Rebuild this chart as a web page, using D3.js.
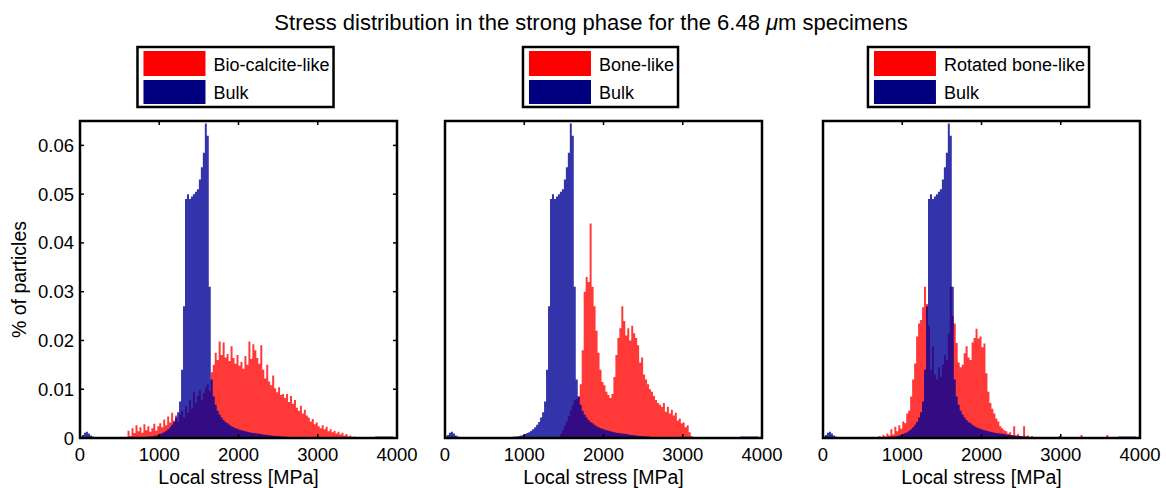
<!DOCTYPE html>
<html>
<head>
<meta charset="utf-8">
<script src="https://cdn.jsdelivr.net/npm/d3@7"></script>
<style>
  html, body { margin: 0; padding: 0; background: #fff; }
  svg text { font-family: "Liberation Sans", Arial, Helvetica, sans-serif; fill: #000; }
</style>
</head>
<body>
<svg id="chart" width="1166" height="488"></svg>
<script>
// ---------------- DATA ----------------
const titleText = "Stress distribution in the strong phase for the 6.48 ";
const xLabel = "Local stress [MPa]";
const yLabel = "% of particles";
const binWidth = 25;                       // MPa per histogram bin
const xTicks = [0, 1000, 2000, 3000, 4000];
const xTickLabels = ["0", "1000", "2000", "3000", "4000"];
const yTicks = [0, 0.01, 0.02, 0.03, 0.04, 0.05, 0.06];
const yTickLabels = ["0", "0.01", "0.02", "0.03", "0.04", "0.05", "0.06"];
const seriesLabels = ["Bio-calcite-like", "Bone-like", "Rotated bone-like"];
const bulkLabel = "Bulk";
const valueUnit = 1e-3;                    // values below are in units of 0.001

// Bulk (same in all three panels), bins from 0 MPa
const bulkStart = 0;
const bulkValues = [
  0.3, 0.6, 1.1, 1.3, 0.9, 0.5, 0.3, 0.2,
  0.2, 0.15, 0.1, 0.15, 0.1, 0.1, 0.1, 0.1,
  0.05, 0.1, 0.05, 0.05, 0.1, 0.05, 0.05, 0.1,
  0.1, 0.1, 0.1, 0.15, 0.15, 0.15, 0.2, 0.2,
  0.2, 0.2, 0.25, 0.3, 0.3, 0.4, 0.5, 0.6,
  0.8, 1.0, 1.2, 1.5, 1.8, 2.2, 2.7, 3.3,
  4.2, 5.3, 7.5, 14, 27, 49, 50, 49,
  49.5, 50, 50.5, 51, 53, 55.5, 58.5, 64.5,
  62, 31, 12, 8.5, 6.8, 5.6, 4.8, 4.2,
  3.7, 3.3, 3.0, 2.7, 2.4, 2.2, 2.0, 1.9,
  1.7, 1.6, 1.5, 1.4, 1.3, 1.2, 1.1, 1.0,
  0.95, 0.9, 0.85, 0.8, 0.7, 0.65, 0.6, 0.55,
  0.5, 0.45, 0.4, 0.4, 0.35, 0.3, 0.3, 0.25,
  0.2, 0.2, 0.15, 0.15, 0.1, 0.1, 0.1, 0.05,
  0.05, 0.05, 0, 0.05, 0, 0, 0.05, 0,
  0, 0, 0, 0, 0, 0, 0, 0,
  0, 0, 0, 0, 0, 0, 0, 0,
  0, 0, 0, 0, 0, 0, 0, 0,
  0, 0, 0, 0, 0, 0.3, 0.3, 0.3,
  0.3, 0.3, 0.3, 0.3, 0.3, 0.3, 0, 0
];

// Bio-calcite-like, bins from 600 MPa
const bioStart = 600;
const bioValues = [
  1.5, 0.4, 2.0, 1.0, 2.6, 1.4, 2.2, 1.1,
  2.8, 1.6, 2.4, 1.3, 2.0, 2.9, 1.5, 2.4,
  3.0, 2.2, 3.8, 2.6, 4.4, 3.2, 5.2, 3.6,
  4.6, 3.4, 4.8, 5.6, 4.2, 6.5, 5.2, 7.8,
  6.0, 9.4, 7.2, 8.6, 9.8, 7.8, 9.2, 10.4,
  11.0, 9.6, 13.5, 15.0, 17.5, 16.0, 19.8, 17.0,
  19.6, 16.5, 17.2, 15.8, 18.8, 16.4, 15.2, 17.0,
  14.8, 15.6, 14.2, 16.8, 15.0, 19.8, 16.2, 19.2,
  18.0, 16.4, 15.2, 19.0, 14.0, 12.2, 15.0, 11.6,
  10.8, 12.8, 10.2, 9.4, 10.4, 8.8, 9.0, 8.2,
  9.0, 7.4, 8.6, 7.0, 7.8, 6.2, 5.6, 6.6,
  5.0, 5.8, 4.6, 4.2, 3.4, 3.9, 2.8, 3.2,
  2.4, 2.0, 2.6, 1.8, 2.3, 1.4, 1.8, 1.2,
  1.5, 0.9, 1.3, 0.7, 1.1, 0.5, 0.8, 0.3,
  0.5, 0.2, 0.3, 0, 0.2
];

// Bone-like, bins from 1450 MPa
const boneStart = 1450;
const boneValues = [
  0.8, 1.6, 2.5, 3.4, 4.5, 5.6, 6.8, 7.8,
  8.0, 8.5, 11, 18, 30, 33, 32, 44,
  31, 27, 22, 17.5, 14, 11.5, 10.8, 9.5,
  8.8, 8.2, 9.0, 12.5, 17, 20.5, 22.5, 27,
  24, 21, 22.5, 20, 23, 21.5, 20.5, 19,
  15.5, 16.5, 13, 12, 11, 10, 9.5, 8.6,
  7.8, 7.2, 6.8, 6.4, 7.2, 5.4, 6.4, 5.0,
  5.8, 4.6, 5.2, 3.6, 4.0, 3.0, 3.2, 2.2,
  2.6, 1.2, 0.4
];

// Rotated bone-like, bins from 700 MPa
const rotStart = 700;
const rotValues = [
  0.4, 0, 0.6, 0.3, 0.9, 0.5, 1.8, 0.7,
  2.3, 1.4, 2.6, 1.9, 3.4, 3.0, 5.0, 5.6,
  8.5, 12.0, 15.3, 20.8, 23.5, 24.2, 26.8, 31.0,
  27.5, 23.0, 14.0, 18.8, 13.0, 12.0, 14.5, 12.5,
  15.0, 17.0, 16.0, 21.5, 31.0, 25.0, 23.5, 19.5,
  15.5, 14.5, 15.0, 17.4, 18.8, 16.5, 16.0, 19.6,
  20.5, 22.4, 20.4, 20.8, 18.6, 19.4, 13.3, 9.5,
  7.2, 6.0, 5.0, 4.0, 3.4, 2.4, 2.0, 1.6,
  1.4, 0.9, 1.2, 0.6, 2.4, 0.5, 0.8, 0.4,
  0.3, 2.4, 0.3, 0.5, 0.2, 0.4, 0, 0.2,
  0, 0, 0, 0, 0, 0, 0, 0, 0, 0, 0, 0.4,
  0, 0, 0, 0, 0, 0, 0, 0, 0, 0, 0.6,
  0, 0, 0, 0, 0, 0, 0, 0, 0, 0, 0, 0, 0.6
];

// ---------------- LAYOUT ----------------
const panels = [
  { left: 80,  label: seriesLabels[0], start: bioStart,  values: bioValues,  yLabels: true },
  { left: 445, label: seriesLabels[1], start: boneStart, values: boneValues, yLabels: false },
  { left: 823, label: seriesLabels[2], start: rotStart,  values: rotValues,  yLabels: false }
];
const plotW = 317, plotTop = 121, plotBottom = 438;
const redColor = "#ff0000", blueColor = "#000095";
const tickFont = 18.5, labelFont = 19.5, legendFont = 18, titleFont = 22;

const svg = d3.select("#chart");

// Title
const title = svg.append("text")
  .attr("x", 591).attr("y", 30)
  .attr("text-anchor", "middle")
  .style("font-size", titleFont + "px");
title.append("tspan").text(titleText);
title.append("tspan").style("font-style", "italic").text("\u03bc");
title.append("tspan").text("m specimens");

function toBins(start, values) {
  const pts = values.map((v, i) => ({ x: start + i * binWidth, v: v * valueUnit }));
  pts.push({ x: start + values.length * binWidth, v: 0 });
  return pts;
}

panels.forEach((p, pi) => {
  const x = d3.scaleLinear().domain([0, 4000]).range([p.left, p.left + plotW]);
  const y = d3.scaleLinear().domain([0, 0.065]).range([plotBottom, plotTop]);
  const g = svg.append("g");

  const area = d3.area()
    .curve(d3.curveStepAfter)
    .x(d => x(d.x))
    .y0(y(0))
    .y1(d => y(d.v));

  g.append("path").datum(toBins(p.start, p.values))
    .attr("d", area).attr("fill", redColor).attr("fill-opacity", 0.78);
  g.append("path").datum(toBins(bulkStart, bulkValues))
    .attr("d", area).attr("fill", blueColor).attr("fill-opacity", 0.8);

  // ticks (inward) on top and bottom
  const inner = xTicks.filter(t => t > 0 && t < 4000);
  g.selectAll(".xtb").data(inner).enter().append("line")
    .attr("x1", d => x(d)).attr("x2", d => x(d))
    .attr("y1", plotBottom).attr("y2", plotBottom - 4)
    .attr("stroke", "#000").attr("stroke-width", 1.5);
  g.selectAll(".xtt").data(inner).enter().append("line")
    .attr("x1", d => x(d)).attr("x2", d => x(d))
    .attr("y1", plotTop).attr("y2", plotTop + 4)
    .attr("stroke", "#000").attr("stroke-width", 1.5);

  if (p.yLabels) {
    const yi = yTicks.filter(t => t > 0);
    g.selectAll(".ytl").data(yi).enter().append("line")
      .attr("x1", p.left).attr("x2", p.left + 4)
      .attr("y1", d => y(d)).attr("y2", d => y(d))
      .attr("stroke", "#000").attr("stroke-width", 1.5);
    g.selectAll(".ytr").data(yi).enter().append("line")
      .attr("x1", p.left + plotW).attr("x2", p.left + plotW - 4)
      .attr("y1", d => y(d)).attr("y2", d => y(d))
      .attr("stroke", "#000").attr("stroke-width", 1.5);
    g.selectAll(".ylab").data(yTicks).enter().append("text")
      .attr("x", p.left - 6).attr("y", d => y(d) + 6.5)
      .attr("text-anchor", "end")
      .style("font-size", tickFont + "px")
      .text((d, i) => yTickLabels[i]);
    g.append("text")
      .attr("transform", `translate(${p.left - 54},${(plotTop + plotBottom) / 2}) rotate(-90)`)
      .attr("text-anchor", "middle")
      .style("font-size", labelFont + "px")
      .text(yLabel);
  }

  // frame
  g.append("rect")
    .attr("x", p.left).attr("y", plotTop)
    .attr("width", plotW).attr("height", plotBottom - plotTop)
    .attr("fill", "none").attr("stroke", "#000").attr("stroke-width", 2.5);

  // x tick labels
  g.selectAll(".xlab").data(xTicks).enter().append("text")
    .attr("x", d => x(d)).attr("y", 461)
    .attr("text-anchor", "middle")
    .style("font-size", tickFont + "px")
    .text((d, i) => xTickLabels[i]);
  g.append("text")
    .attr("x", p.left + plotW / 2).attr("y", 484)
    .attr("text-anchor", "middle")
    .style("font-size", labelFont + "px")
    .text(xLabel);

  // legend
  const lg = svg.append("g");
  const t1 = lg.append("text").style("font-size", legendFont + "px").text(p.label);
  const t2 = lg.append("text").style("font-size", legendFont + "px").text(bulkLabel);
  const tw = Math.max(t1.node().getComputedTextLength(), t2.node().getComputedTextLength());
  const patchW = 62, padL = 6, gap = 8, padR = 4;
  const boxW = padL + patchW + gap + tw + padR;
  const cx = p.left + plotW / 2 - 3;
  const bx = cx - boxW / 2, by = 47, bh = 60;
  lg.insert("rect", "text")
    .attr("x", bx).attr("y", by).attr("width", boxW).attr("height", bh)
    .attr("fill", "#fff").attr("stroke", "#000").attr("stroke-width", 2.5);
  lg.insert("rect", "text")
    .attr("x", bx + padL).attr("y", by + 4).attr("width", patchW).attr("height", 25)
    .attr("fill", "#ff0000");
  lg.insert("rect", "text")
    .attr("x", bx + padL).attr("y", by + 33).attr("width", patchW).attr("height", 24)
    .attr("fill", "#000080");
  t1.attr("x", bx + padL + patchW + gap).attr("y", by + 24);
  t2.attr("x", bx + padL + patchW + gap).attr("y", by + 52);
});
</script>
</body>
</html>
